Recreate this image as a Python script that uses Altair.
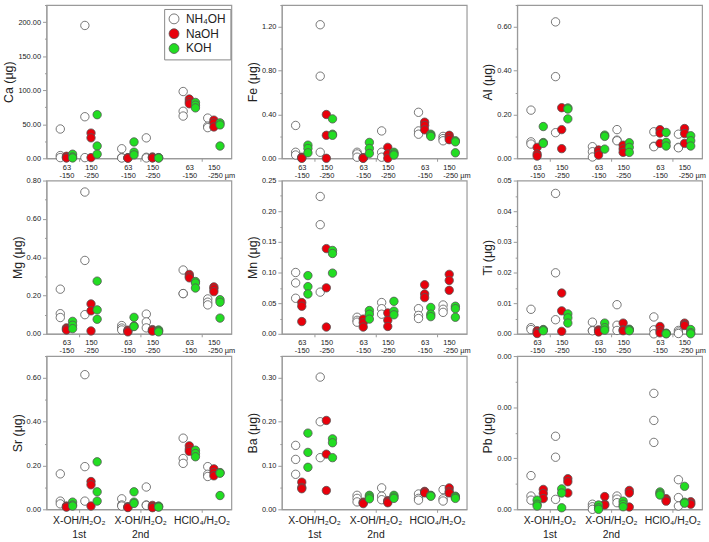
import altair as alt
import pandas as pd

SERIES = ["NH₄OH", "NaOH", "KOH"]
FILLS = ["#ffffff", "#e8000b", "#22dd22"]

# Six groups per element: (1st X-OH, 2nd X-OH, HClO4) x (63-150, 150-250 µm),
# three replicates each, in µg.
CA_NH4OH = [[43, 4, 1], [195, 61, 1], [14, 1, 0.5], [30, 1.5, 0.5], [98, 69, 62], [59, 47, 45]]
CA_NAOH = [[3, 1, 0.5], [37, 30, 1], [1, 0.5, 0.2], [2, 1, 0.5], [87, 83, 80], [56, 52, 46]]
CA_KOH = [[6, 2, 0.5], [64, 18, 6], [24, 9, 5], [1, 0.8, 0.3], [82, 78, 74], [52, 49, 18]]

FE_NH4OH = [[0.30, 0.055, 0.03], [1.22, 0.75, 0.055], [0.055, 0.04, 0.01], [0.25, 0.055, 0.01], [0.42, 0.25, 0.22], [0.20, 0.18, 0.16]]
FE_NAOH = [[0.01, 0.005, 0], [0.40, 0.21, 0], [0.005, 0.003, 0], [0.10, 0.04, 0], [0.33, 0.30, 0.26], [0.21, 0.19, 0.17]]
FE_KOH = [[0.12, 0.09, 0.05], [0.36, 0.22, 0.21], [0.145, 0.09, 0.045], [0.055, 0.04, 0.03], [0.22, 0.21, 0.20], [0.16, 0.15, 0.05]]

AL_NH4OH = [[0.22, 0.075, 0.065], [0.623, 0.373, 0.117], [0.053, 0.03, 0.006], [0.131, 0.083, 0.08], [0.121, 0.055, 0.053], [0.11, 0.05, 0.048]]
AL_NAOH = [[0.05, 0.02, 0.01], [0.231, 0.131, 0.044], [0.038, 0.03, 0.015], [0.06, 0.043, 0.027], [0.131, 0.115, 0.068], [0.136, 0.113, 0.068]]
AL_KOH = [[0.145, 0.072, 0.068], [0.23, 0.225, 0.18], [0.106, 0.10, 0.042], [0.071, 0.05, 0.027], [0.118, 0.073, 0.056], [0.103, 0.08, 0.056]]

MG_NH4OH = [[0.233, 0.105, 0.085], [0.74, 0.383, 0.10], [0.043, 0.03, 0.02], [0.103, 0.062, 0.031], [0.333, 0.21, 0.21], [0.182, 0.165, 0.151]]
MG_NAOH = [[0.031, 0.025, 0.02], [0.156, 0.12, 0.015], [0.019, 0.015, 0.01], [0.022, 0.018, 0.014], [0.31, 0.30, 0.292], [0.245, 0.235, 0.22]]
MG_KOH = [[0.065, 0.045, 0.027], [0.275, 0.125, 0.076], [0.086, 0.041, 0.038], [0.02, 0.015, 0.01], [0.273, 0.265, 0.239], [0.178, 0.165, 0.082]]

MN_NH4OH = [[0.10, 0.083, 0.058], [0.224, 0.178, 0.068], [0.027, 0.022, 0.019], [0.051, 0.041, 0.032], [0.041, 0.03, 0.025], [0.047, 0.04, 0.035]]
MN_NAOH = [[0.051, 0.045, 0.02], [0.139, 0.075, 0.011], [0.024, 0.018, 0.011], [0.034, 0.022, 0.012], [0.08, 0.065, 0.059], [0.097, 0.087, 0.071]]
MN_KOH = [[0.095, 0.077, 0.065], [0.136, 0.131, 0.099], [0.038, 0.032, 0.024], [0.053, 0.037, 0.031], [0.043, 0.032, 0.028], [0.045, 0.041, 0.027]]

TI_NH4OH = [[0.008, 0.002, 0.0014], [0.0458, 0.0199, 0.0046], [0.0038, 0.0011, 0.001], [0.0095, 0.0028, 0.0011], [0.0055, 0.0013, 0.0], [0.0011, 0.0006, 0.0001]]
TI_NAOH = [[0.001, 0.0005, 0.0001], [0.0133, 0.0075, 0.0008], [0.0013, 0.001, 0.0006], [0.0035, 0.0013, 0.001], [0.0024, 0.0011, 0.0003], [0.0035, 0.003, 0.0027]]
TI_KOH = [[0.0014, 0.0012, 0.001], [0.0065, 0.0052, 0.0035], [0.0035, 0.002, 0.0012], [0.0015, 0.0013, 0.001], [0.0002, 0.0001, 0.0], [0.0014, 0.0004, 0.0]]

SR_NH4OH = [[0.162, 0.0375, 0.025], [0.615, 0.195, 0.0375], [0.048, 0.02, 0.015], [0.102, 0.02, 0.018], [0.325, 0.232, 0.21], [0.195, 0.16, 0.15]]
SR_NAOH = [[0.015, 0.012, 0.01], [0.127, 0.112, 0.015], [0.012, 0.01, 0.008], [0.018, 0.012, 0.0075], [0.29, 0.275, 0.265], [0.185, 0.168, 0.153]]
SR_KOH = [[0.033, 0.02, 0.015], [0.217, 0.08, 0.0375], [0.08, 0.033, 0.027], [0.015, 0.012, 0.01], [0.27, 0.255, 0.24], [0.168, 0.165, 0.063]]

BA_NH4OH = [[0.146, 0.114, 0.08], [0.302, 0.20, 0.118], [0.032, 0.025, 0.017], [0.049, 0.03, 0.022], [0.035, 0.025, 0.021], [0.045, 0.024, 0.019]]
BA_NAOH = [[0.062, 0.05, 0.047], [0.203, 0.126, 0.043], [0.0165, 0.015, 0.013], [0.02, 0.018, 0.015], [0.041, 0.04, 0.0375], [0.049, 0.041, 0.0375]]
BA_KOH = [[0.174, 0.13, 0.096], [0.161, 0.152, 0.118], [0.032, 0.028, 0.024], [0.032, 0.028, 0.025], [0.032, 0.031, 0.03], [0.03, 0.028, 0.025]]

PB_NH4OH = [[0.00066, 0.00026, 0.00018], [0.00143, 0.00102, 0.000195], [0.0001, 0.00005, 0.0], [0.00026, 0.0002, 0.00013], [0.00227, 0.00174, 0.00131], [0.00058, 0.00023, 0.000065]]
PB_NAOH = [[0.00039, 0.00031, 0.00021], [0.0006, 0.00054, 0.00032], [0.00025, 0.0001, 0.000085], [0.00037, 0.00032, 0.000045], [0.00021, 0.00018, 0.00016], [0.00015, 0.00012, 0.0001]]
PB_KOH = [[0.00018, 0.0001, 0.000065], [0.0004, 0.00032, 0.00003], [0.000085, 0.00003, 0.0], [0.00016, 0.0001, 0.00005], [0.00034, 0.00031, 0.00028], [0.00045, 0.00014, 0.00012]]

SIZE_LABELS = [["63", "-150"], ["150", "-250"]]
TREATMENT_LABELS = [["X-OH/H₂O₂", "1st"], ["X-OH/H₂O₂", "2nd"], "HClO₄/H₂O₂"]

# element, series arrays, axis top, major step, minor step, left-to-right series order
PANELS = [
    ("Ca", (CA_NH4OH, CA_NAOH, CA_KOH), 225, 50, 25, SERIES),
    ("Fe", (FE_NH4OH, FE_NAOH, FE_KOH), 1.4, 0.4, 0.2, SERIES),
    ("Al", (AL_NH4OH, AL_NAOH, AL_KOH), 0.7, 0.2, 0.1, SERIES),
    ("Mg", (MG_NH4OH, MG_NAOH, MG_KOH), 0.8, 0.2, 0.1, SERIES),
    ("Mn", (MN_NH4OH, MN_NAOH, MN_KOH), 0.25, 0.05, 0.025, SERIES),
    ("Ti", (TI_NH4OH, TI_NAOH, TI_KOH), 0.05, 0.01, 0.005, SERIES),
    ("Sr", (SR_NH4OH, SR_NAOH, SR_KOH), 0.7, 0.2, 0.1, SERIES),
    ("Ba", (BA_NH4OH, BA_NAOH, BA_KOH), 0.35, 0.1, 0.05, SERIES),
    ("Pb", (PB_NH4OH, PB_NAOH, PB_KOH), 0.003, 0.001, 0.0005, ["NH₄OH", "KOH", "NaOH"]),
]

FRAME = "#9a9a9a"
TEXT = "#222222"
W, H = 187, 155


def group_center(g):
    t, f = divmod(g, 2)
    return 1 + 2 * t + (-0.4 if f == 0 else 0.4)


def build_frame(arrays, order):
    rows = []
    for name, arr in zip(SERIES, arrays):
        k = order.index(name)
        for g, reps in enumerate(arr):
            for v in reps:
                rows.append({"series": name, "x": group_center(g) + (k - 1) * 0.2,
                             "v": v, "rank": SERIES.index(name)})
    return pd.DataFrame(rows)


def x_axis(last_row):
    if last_row:
        expr = ("datum.value == 1 ? ['X-OH/H₂O₂', '1st'] : "
                "datum.value == 3 ? ['X-OH/H₂O₂', '2nd'] : 'HClO₄/H₂O₂'")
        return alt.Axis(values=[1, 3, 5], labelExpr=expr, title=None, grid=False,
                        labelFontSize=10.5, labelLineHeight=14, labelPadding=3,
                        tickSize=3, tickColor=FRAME, domainColor=FRAME, labelColor=TEXT,
                        labelOverlap=False, labelFlush=False, labelBound=False)
    expr = ("indexof([0.6, 2.6, 4.6], datum.value) >= 0 ? ['63', '-150'] : "
            "indexof([1.4, 3.4], datum.value) >= 0 ? ['150', '-250'] : "
            "datum.value == 5.4 ? ['150', '-250 µm'] : ''")
    centers = "indexof([1, 3, 5], datum.value) >= 0"
    return alt.Axis(values=[0.6, 1, 1.4, 2.6, 3, 3.4, 4.6, 5, 5.4], labelExpr=expr,
                    title=None, grid=False, labelFontSize=7.5, labelLineHeight=8,
                    labelPadding=2, tickSize=3, tickColor=FRAME, domainColor=FRAME,
                    labelColor=TEXT,
                    tickOpacity={"condition": {"test": centers, "value": 1}, "value": 0},
                    labelAlign={"condition": {"test": "datum.value == 5.4", "value": "left"},
                                "value": "center"},
                    labelOffset={"condition": {"test": "datum.value == 5.4", "value": -6.5},
                                 "value": 0},
                    labelOverlap=False, labelFlush=False, labelBound=False)


def y_axis(el, top, major, minor):
    n = int(round(top / minor))
    vals = [round(i * minor, 10) for i in range(n + 1)]
    is_major = f"abs(datum.value / {major} - round(datum.value / {major})) < 1e-6"
    return alt.Axis(values=vals, title=f"{el} (μg)", grid=False,
                    labelExpr=f"{is_major} ? format(datum.value, '.2f') : ''",
                    tickSize={"condition": {"test": is_major, "value": 4}, "value": 2},
                    labelFontSize=7.5, labelPadding=2, labelColor=TEXT,
                    titleFontSize=12.5, titleFontWeight="normal", titleColor=TEXT,
                    titlePadding=2, tickColor=FRAME, domainColor=FRAME,
                    labelOverlap=False, labelFlush=False)


charts = []
for i, (el, arrays, top, major, minor, order) in enumerate(PANELS):
    df = build_frame(arrays, order)
    legend = None
    if i == 0:
        legend = alt.Legend(orient="none", legendX=119, legendY=4, title=None,
                            labelFontSize=12, labelColor=TEXT, symbolSize=100,
                            symbolType="circle", symbolStrokeColor="#555555",
                            symbolStrokeWidth=0.8, strokeColor="#888888",
                            fillColor="#ffffff", padding=4, rowPadding=1,
                            labelOffset=6)
    ch = alt.Chart(df).mark_circle(size=72, stroke="#555555", strokeWidth=0.8,
                                   opacity=1).encode(
        x=alt.X("x:Q", scale=alt.Scale(domain=[-0.05, 5.97], nice=False, zero=False),
                axis=x_axis(i >= 6)),
        y=alt.Y("v:Q", scale=alt.Scale(domain=[0, top], nice=False, zero=True),
                axis=y_axis(el, top, major, minor)),
        fill=alt.Fill("series:N", scale=alt.Scale(domain=SERIES, range=FILLS),
                      legend=legend),
        order=alt.Order("rank:Q"),
    ).properties(width=W, height=H)
    charts.append(ch)

chart = alt.concat(
    *charts, columns=3, spacing={"row": 22.5, "column": 51}, bounds="flush"
).resolve_legend(fill="independent").configure(
    font="Liberation Sans"
).configure_view(
    stroke=FRAME, strokeWidth=1.2
).properties(padding={"left": 2, "top": -3, "right": 2, "bottom": 2})

chart.save("out.html", embed_options={"renderer": "svg", "actions": False})
